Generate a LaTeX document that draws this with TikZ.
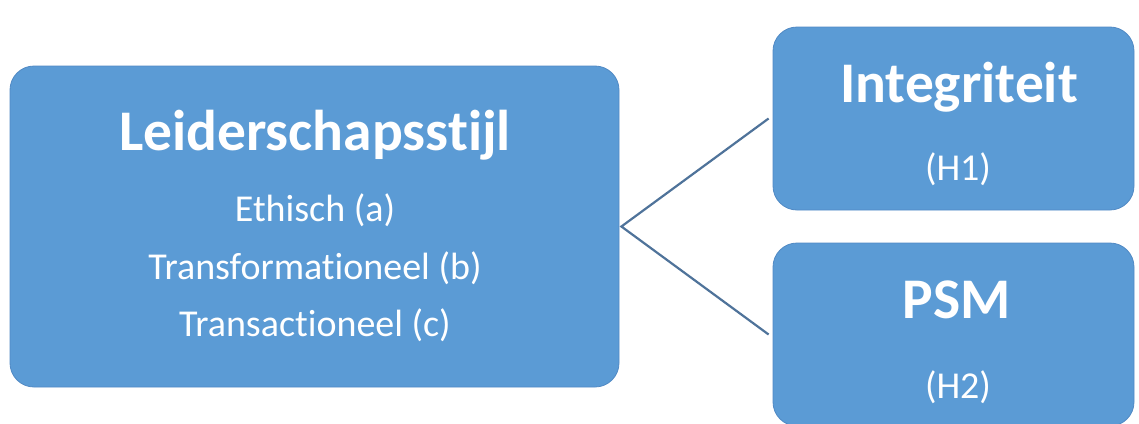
\documentclass[tikz,border=0pt]{standalone}
\usepackage{fontspec}
\setmainfont{Carlito}[Ligatures=NoCommon]
\definecolor{boxblue}{HTML}{5B9BD5}
\definecolor{boxedge}{HTML}{5089C4}
\definecolor{linkblue}{HTML}{4F739A}
\newcommand{\tisep}{t\kern0pt i}% keep t and i as separate glyphs
\tikzset{
  card/.style={draw=boxedge, line width=0.8pt, fill=boxblue, rounded corners=24pt,
    inner sep=0pt, anchor=center},
  headtxt/.style={text=white, anchor=base, font=\fontsize{57.5}{62}\selectfont\bfseries},
  subtxt/.style={text=white, anchor=base, font=\fontsize{38}{42}\selectfont},
  link/.style={draw=linkblue, line width=2.2pt}
}
\begin{document}
\begin{tikzpicture}[x=1pt, y=-1pt]
  \useasboundingbox (0,0) rectangle (1139,423);
  \clip (0,0) rectangle (1139,423);
  % boxes
  \node[card, minimum width=609pt, minimum height=321pt] (lead) at (314.5,226.5) {};
  \node[card, minimum width=361pt, minimum height=183pt] (integ) at (953.5,118.5) {};
  \node[card, minimum width=361pt, minimum height=183pt] (psm) at (953.5,334.5) {};
  % labels
  \node[headtxt] (leadt) at (315,150) {Leiderschapss\tisep jl};
  \node[subtxt] (la) at (315,221.7) {Ethisch (a)};
  \node[subtxt] (lb) at (315,279) {Transforma\tisep oneel (b)};
  \node[subtxt] (lc) at (315,336.7) {Transac\tisep oneel (c)};
  \node[headtxt] (integt) at (959,102) {Integriteit};
  \node[subtxt] (h1) at (958,180) {(H1)};
  \node[headtxt] (psmt) at (957,318) {PSM};
  \node[subtxt] (h2) at (958,398) {(H2)};
  % connectors
  \coordinate (apex) at ([xshift=2pt]lead.east);
  \draw[link] ([xshift=-4pt]integ.west) -- (apex) -- ([xshift=-4pt]psm.west);
\end{tikzpicture}
\end{document}
